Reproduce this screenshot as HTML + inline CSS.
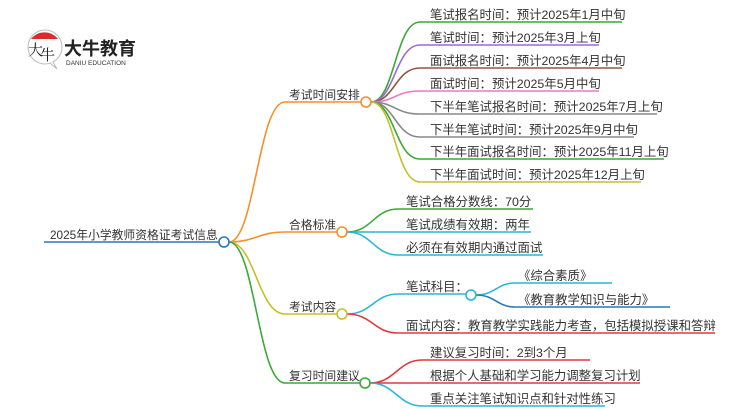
<!DOCTYPE html>
<html><head><meta charset="utf-8"><style>
html,body{margin:0;padding:0;background:#fff;}
svg{display:block;}
text{font-family:"Liberation Sans","Noto Sans CJK SC",sans-serif;font-size:12.4px;fill:#333;}
</style></head><body>
<svg width="750" height="410" viewBox="0 0 750 410" xmlns="http://www.w3.org/2000/svg">
<g fill="none" stroke-width="1.6">
<path d="M44 242 H219" stroke="#2a77b8"/>
<path d="M229 242 C255 242 258 102 285 102 H361" stroke="#f58f2a"/>
<path d="M229 242 C255 242 258 232 285 232 H337" stroke="#f58f2a"/>
<path d="M229 242 C255 242 258 314 285 314 H337" stroke="#c5bf2c"/>
<path d="M229 242 C255 242 258 383 285 383 H360" stroke="#3aa935"/>
<path d="M371 102 C395 102 395 22 420 22 H622" stroke="#3aa935"/>
<path d="M371 102 C395 102 395 45 420 45 H599" stroke="#9b6ad4"/>
<path d="M371 102 C395 102 395 68 420 68 H622" stroke="#8b5848"/>
<path d="M371 102 C395 102 395 91 420 91 H599" stroke="#e67cc6"/>
<path d="M371 102 C395 102 395 114 420 114 H657" stroke="#888"/>
<path d="M371 102 C395 102 395 137 420 137 H634" stroke="#888"/>
<path d="M371 102 C395 102 395 159 420 159 H664" stroke="#3aa935"/>
<path d="M371 102 C395 102 395 182 420 182 H641" stroke="#c5bf2c"/>
<path d="M347 232 C372 232 374 209 398 209 H533" stroke="#3aa935"/>
<path d="M347 232 H531" stroke="#2ab6d6"/>
<path d="M347 232 C372 232 374 255 398 255 H543" stroke="#2ab6d6"/>
<path d="M347 314 C372 314 374 294 398 294 H466" stroke="#2ab6d6"/>
<path d="M347 314 C372 314 374 333 398 333 H715" stroke="#e0393e"/>
<path d="M476 295 C495 295 497 283 515 283 H612" stroke="#2ab6d6"/>
<path d="M476 295 C495 295 497 307 515 307 H670" stroke="#2a77b8"/>
<path d="M370 383 C395 383 398 360 422 360 H590" stroke="#e0393e"/>
<path d="M370 383 H640" stroke="#e0393e"/>
<path d="M370 383 C395 383 398 406 422 406 H605" stroke="#2ab6d6"/>
</g>
<g fill="#fff" stroke-width="1.6">
<circle cx="224" cy="242" r="5" stroke="#2a77b8"/>
<circle cx="366" cy="102" r="5" stroke="#f58f2a"/>
<circle cx="342" cy="232" r="5" stroke="#f58f2a"/>
<circle cx="342" cy="314" r="5" stroke="#c5bf2c"/>
<circle cx="365" cy="383" r="5" stroke="#3aa935"/>
<circle cx="471" cy="295" r="5" stroke="#2ab6d6"/>
</g>
<g>
<path d="M31 39 A17 17 0 0 1 58 39 Z" fill="#e02a2a"/>
<circle cx="45" cy="47" r="17" fill="none" stroke="#bbb" stroke-width="1"/>
<path d="M50 63 L57 69 L53 62" fill="#fff" stroke="#bbb" stroke-width="1"/>
<text x="28" y="55" style="font-size:15px;fill:#222;font-family:'Noto Serif CJK SC',serif">大</text>
<text x="40" y="60" style="font-size:15px;fill:#222;font-family:'Noto Serif CJK SC',serif">牛</text>
<text x="64" y="55" style="font-size:18px;font-weight:bold;fill:#222">大牛教育</text>
<text x="66" y="65" style="font-size:6.5px;fill:#333">DANIU EDUCATION</text>
</g>
<text x="50" y="239" style="font-size:11.8px">2025年小学教师资格证考试信息</text>
<text x="289" y="99" style="font-size:11.8px">考试时间安排</text>
<text x="289" y="229" style="font-size:11.8px">合格标准</text>
<text x="289" y="311" style="font-size:11.8px">考试内容</text>
<text x="289" y="380" style="font-size:11.8px">复习时间建议</text>
<text x="430" y="19">笔试报名时间：预计2025年1月中旬</text>
<text x="430" y="42">笔试时间：预计2025年3月上旬</text>
<text x="430" y="65">面试报名时间：预计2025年4月中旬</text>
<text x="430" y="88">面试时间：预计2025年5月中旬</text>
<text x="430" y="111">下半年笔试报名时间：预计2025年7月上旬</text>
<text x="430" y="134">下半年笔试时间：预计2025年9月中旬</text>
<text x="430" y="156">下半年面试报名时间：预计2025年11月上旬</text>
<text x="430" y="179">下半年面试时间：预计2025年12月上旬</text>
<text x="406" y="206">笔试合格分数线：70分</text>
<text x="406" y="229">笔试成绩有效期：两年</text>
<text x="406" y="252">必须在有效期内通过面试</text>
<text x="406" y="291">笔试科目：</text>
<text x="518" y="280">《综合素质》</text>
<text x="518" y="304">《教育教学知识与能力》</text>
<text x="406" y="330">面试内容：教育教学实践能力考查，包括模拟授课和答辩</text>
<text x="430" y="357">建议复习时间：2到3个月</text>
<text x="430" y="380">根据个人基础和学习能力调整复习计划</text>
<text x="430" y="403">重点关注笔试知识点和针对性练习</text>
</svg>
</body></html>
